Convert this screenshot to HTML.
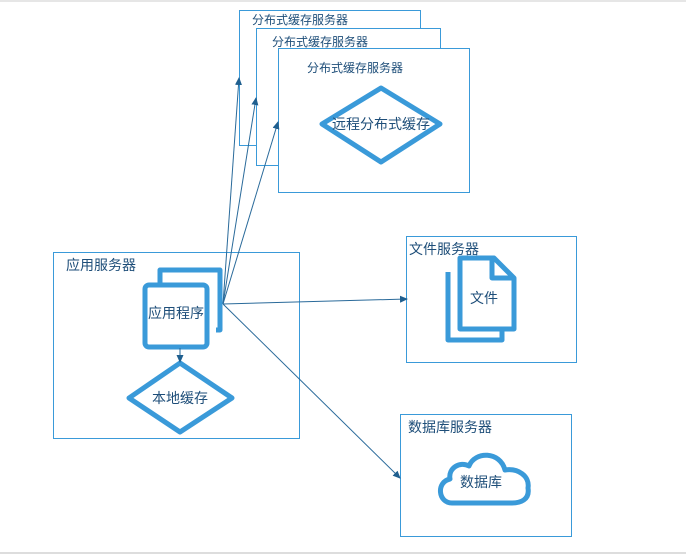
<!DOCTYPE html>
<html><head><meta charset="utf-8"><style>
body{margin:0;background:#fff;}
svg{display:block;font-family:"Liberation Sans","Noto Sans CJK SC",sans-serif;}
</style></head><body>
<svg width="686" height="557" viewBox="0 0 686 557" xmlns="http://www.w3.org/2000/svg">
<defs><marker id="a" markerWidth="8" markerHeight="8" refX="7" refY="4" orient="auto" markerUnits="userSpaceOnUse"><path d="M0,0.5 L8,4 L0,7.5 Z" fill="#1f5f8f"/></marker></defs>
<line x1="0" y1="1" x2="686" y2="1" stroke="#ccc"/>
<line x1="0" y1="553" x2="686" y2="553" stroke="#bbb"/>
<g fill="#fff" stroke="#3a9ad9" stroke-width="1">
<rect x="239.5" y="10.5" width="181" height="135"/>
<rect x="256.5" y="28.5" width="184" height="137"/>
<rect x="278.5" y="48.5" width="191" height="144"/>
<rect x="53.5" y="252.5" width="246" height="186"/>
<rect x="406.5" y="236.5" width="170" height="126"/>
<rect x="400.5" y="414.5" width="171" height="122"/>
</g>
<g fill="#1e4e79" font-size="12">
<text x="252" y="24">分布式缓存服务器</text>
<text x="272" y="46">分布式缓存服务器</text>
<text x="307" y="72">分布式缓存服务器</text>
</g>
<g fill="#1e4e79" font-size="14">
<text x="66" y="270">应用服务器</text>
<text x="409" y="254">文件服务器</text>
<text x="408" y="432">数据库服务器</text>
</g>
<g fill="#fff" stroke="#3a9ad9" stroke-width="5" stroke-linejoin="round">
<path d="M381,88 L440,124 L381,162 L322,124 Z"/>
<path d="M180,363 L232,398 L180,432 L129,398 Z"/>
<path d="M160,283 V270 H220 V330 H216"/>
<rect x="145" y="285" width="62" height="62" rx="4"/>
<path d="M448,272 V340 H502 V330"/>
<path d="M460,258 H494 L514,278 V329 H460 Z"/>
<path d="M492,258 V278 H514" fill="none"/>
<path d="M452,503 C438,503 436,482 450,479 C448,468 460,461 469,466 C475,451 500,451 505,470 C518,468 530,476 528,488 C530,500 520,503 512,503 Z"/>
</g>
<g fill="#1e4e79" font-size="14" text-anchor="middle">
<text x="381" y="129">远程分布式缓存</text>
<text x="176" y="318">应用程序</text>
<text x="180" y="403">本地缓存</text>
<text x="484" y="303">文件</text>
<text x="481" y="487">数据库</text>
</g>
<g stroke="#2a6a9a" stroke-width="1" fill="none" marker-end="url(#a)">
<line x1="223" y1="304" x2="239" y2="78"/>
<line x1="223" y1="304" x2="256" y2="98"/>
<line x1="223" y1="304" x2="278" y2="122"/>
<line x1="223" y1="304" x2="407" y2="299"/>
<line x1="223" y1="304" x2="400" y2="478"/>
<line x1="180" y1="348" x2="180" y2="362"/>
</g>
</svg>
</body></html>
